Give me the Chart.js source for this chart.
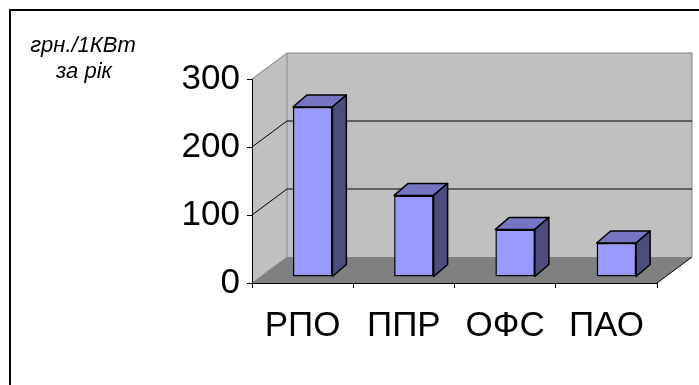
<!DOCTYPE html>
<html>
<head>
<meta charset="utf-8">
<style>
  html, body { margin: 0; padding: 0; background: #ffffff; }
  #wrap { width: 699px; height: 385px; position: relative; }
</style>
<script src="https://cdn.jsdelivr.net/npm/chart.js@4/dist/chart.umd.min.js"></script>
</head>
<body>
<div id="wrap"><canvas id="c" width="699" height="385"></canvas></div>
<script>
// Annual cost per installed kilowatt, by category
const categories = ['РПО', 'ППР', 'ОФС', 'ПАО'];
const costPerKw = [250, 120, 70, 50];
const valueTicks = [0, 100, 200, 300];
const unitLines = ['грн./1КВт', 'за рік'];

const FONT = "'Liberation Sans', Arial, sans-serif";

// depth of the box (back wall offset) and of the bars
const WALL_DX = 35, WALL_DY = 26;
const BAR_SHIFT_X = 10, BAR_SHIFT_Y = 6;
const BAR_DX = 14, BAR_DY = 12;

const box3d = {
  id: 'box3d',
  beforeDraw(chart) {
    const ctx = chart.ctx;
    const ys = chart.scales.y;
    const L = chart.chartArea.left, R = chart.chartArea.right;
    const yTop = ys.getPixelForValue(ys.max);
    const y0 = ys.getPixelForValue(0);
    ctx.save();

    // outer frame
    ctx.strokeStyle = '#000';
    ctx.lineWidth = 2;
    ctx.strokeRect(10, 10, 760, 420);

    // unit caption
    ctx.fillStyle = '#000';
    ctx.font = 'italic 22px ' + FONT;
    ctx.textAlign = 'center';
    ctx.textBaseline = 'alphabetic';
    ctx.fillText(unitLines[0], 83, 51.5);
    ctx.fillText(unitLines[1], 84, 78);

    const poly = (pts, fill) => {
      ctx.beginPath();
      ctx.moveTo(pts[0][0], pts[0][1]);
      for (let i = 1; i < pts.length; i++) ctx.lineTo(pts[i][0], pts[i][1]);
      ctx.closePath();
      ctx.fillStyle = fill;
      ctx.fill();
    };
    const line = (pts, color) => {
      ctx.beginPath();
      ctx.moveTo(pts[0][0], pts[0][1]);
      for (let i = 1; i < pts.length; i++) ctx.lineTo(pts[i][0], pts[i][1]);
      ctx.strokeStyle = color;
      ctx.lineWidth = 1;
      ctx.stroke();
    };

    // side wall, back wall, floor
    poly([[L, yTop], [L + WALL_DX, yTop - WALL_DY], [L + WALL_DX, y0 - WALL_DY], [L, y0]], '#c0c0c0');
    poly([[L + WALL_DX, yTop - WALL_DY], [R + WALL_DX, yTop - WALL_DY], [R + WALL_DX, y0 - WALL_DY], [L + WALL_DX, y0 - WALL_DY]], '#c0c0c0');
    poly([[L, y0], [L + WALL_DX, y0 - WALL_DY], [R + WALL_DX, y0 - WALL_DY], [R, y0]], '#808080');

    // wall edges
    line([[L, yTop], [L + WALL_DX, yTop - WALL_DY], [R + WALL_DX, yTop - WALL_DY], [R + WALL_DX, y0 - WALL_DY]], '#808080');
    line([[L + WALL_DX, yTop - WALL_DY], [L + WALL_DX, y0 - WALL_DY]], '#8a8a8a');
    line([[L, y0], [L + WALL_DX, y0 - WALL_DY]], '#8a8a8a');
    line([[R, y0], [R + WALL_DX, y0 - WALL_DY]], '#000');

    // gridlines running along side wall and back wall
    valueTicks.forEach(v => {
      if (v === 0 || v === ys.max) return;
      const yv = ys.getPixelForValue(v);
      line([[L, yv], [L + WALL_DX, yv - WALL_DY], [R + WALL_DX, yv - WALL_DY]], '#000');
    });
    ctx.restore();
  },
  beforeDatasetsDraw(chart) {
    chart.ctx.save();
    chart.ctx.translate(BAR_SHIFT_X, -BAR_SHIFT_Y);
  },
  afterDatasetsDraw(chart) {
    const ctx = chart.ctx;
    const meta = chart.getDatasetMeta(0);
    meta.data.forEach(bar => {
      const p = bar.getProps(['x', 'y', 'base', 'width'], true);
      const l = p.x - p.width / 2, r = p.x + p.width / 2;
      ctx.lineWidth = 1.5;
      ctx.strokeStyle = '#000';
      ctx.lineJoin = 'round';
      // top face
      ctx.beginPath();
      ctx.moveTo(l, p.y);
      ctx.lineTo(l + BAR_DX, p.y - BAR_DY);
      ctx.lineTo(r + BAR_DX, p.y - BAR_DY);
      ctx.lineTo(r, p.y);
      ctx.closePath();
      ctx.fillStyle = '#7575c4';
      ctx.fill();
      ctx.stroke();
      // side face
      ctx.beginPath();
      ctx.moveTo(r, p.y);
      ctx.lineTo(r + BAR_DX, p.y - BAR_DY);
      ctx.lineTo(r + BAR_DX, p.base - BAR_DY);
      ctx.lineTo(r, p.base);
      ctx.closePath();
      ctx.fillStyle = '#4c4c7e';
      ctx.fill();
      ctx.stroke();
    });
    ctx.restore();
  }
};

new Chart(document.getElementById('c'), {
  type: 'bar',
  data: {
    labels: categories,
    datasets: [{
      data: costPerKw,
      backgroundColor: '#9999ff',
      borderColor: '#000',
      borderWidth: 1.5,
      borderSkipped: false,
      categoryPercentage: 1,
      barPercentage: 0.39
    }]
  },
  options: {
    responsive: false,
    devicePixelRatio: 1,
    animation: false,
    events: [],
    layout: { padding: { left: 0, top: 79, right: 42, bottom: 0 } },
    plugins: { legend: { display: false }, tooltip: { enabled: false }, title: { display: false } },
    scales: {
      x: {
        grid: { offset: true, drawOnChartArea: false, drawTicks: true, tickLength: 5, color: '#000' },
        border: { display: true, color: '#000', width: 1 },
        ticks: { padding: 17, color: '#000', font: { family: FONT, size: 35 }, maxRotation: 0, autoSkip: false },
        afterFit: s => { s.height = 102; }
      },
      y: {
        min: 0,
        max: 300,
        grid: { drawOnChartArea: false, drawTicks: true, tickLength: 5, color: '#000' },
        border: { display: true, color: '#000', width: 1 },
        ticks: { stepSize: 100, padding: 7, color: '#000', font: { family: FONT, size: 35 } },
        afterBuildTicks: s => { s.ticks = valueTicks.map(v => ({ value: v })); },
        afterFit: s => { s.width = 252; }
      }
    }
  },
  plugins: [box3d]
});
</script>
</body>
</html>
